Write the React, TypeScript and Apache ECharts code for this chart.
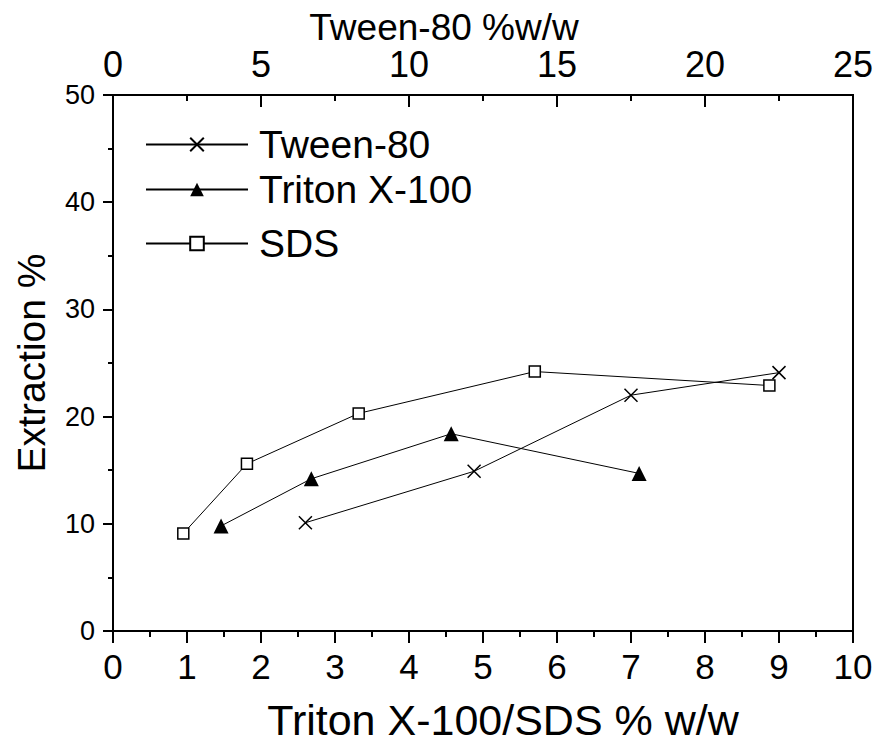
import React, { useEffect, useRef } from "react";
import * as echarts from "echarts";

// Bottom axis (Triton X-100 / SDS % w/w) series
const sdsX = [0.95, 1.81, 3.32, 5.7, 8.87];
const sdsY = [9.1, 15.6, 20.3, 24.2, 22.9];
const tritonX = [1.46, 2.68, 4.57, 7.11];
const tritonY = [9.8, 14.2, 18.4, 14.7];
// Top axis (Tween-80 %w/w) series
const tweenX = [6.5, 12.2, 17.5, 22.5];
const tweenY = [10.1, 14.9, 22.0, 24.1];

const seriesNames = ["Tween-80", "Triton X-100", "SDS"];
const bottomAxisTitle = "Triton X-100/SDS % w/w";
const topAxisTitle = "Tween-80 %w/w";
const leftAxisTitle = "Extraction %";

const FONT = "'Liberation Sans', Arial, Helvetica, sans-serif";
const CROSS = "path://M0,0L10,10M10,0L0,10";

const zip = (xs: number[], ys: number[]) => xs.map((x, i) => [x, ys[i]]);

export default function App() {
  const ref = useRef<HTMLDivElement>(null);
  useEffect(() => {
    if (!ref.current) return;
    const chart = echarts.init(ref.current, undefined, { renderer: "svg" });
    const legendRows = [145, 190, 244];
    chart.setOption({
      animation: false,
      backgroundColor: "#fff",
      grid: {
        left: 113,
        right: 27,
        top: 95,
        bottom: 118,
        show: true,
        borderColor: "#000",
        borderWidth: 2,
        backgroundColor: "transparent",
      },
      legend: seriesNames.map((name, i) => ({
        data: [name],
        left: 140,
        top: legendRows[i] - 25,
        orient: "vertical",
        itemWidth: 102,
        itemHeight: 17,
        selectedMode: false,
        textStyle: {
          fontSize: 39,
          fontFamily: FONT,
          color: "#000",
          padding: [0, 0, 0, 6],
        },
      })),
      xAxis: [
        {
          type: "value",
          position: "bottom",
          min: 0,
          max: 10,
          interval: 1,
          axisLine: { show: true, lineStyle: { color: "#000", width: 2 } },
          axisTick: { show: true, inside: false, length: 12, lineStyle: { color: "#000", width: 2 } },
          minorTick: { show: true, splitNumber: 2, length: 6, lineStyle: { color: "#000", width: 2 } },
          splitLine: { show: false },
          axisLabel: { fontSize: 35, fontFamily: FONT, color: "#000", margin: 18 },
        },
        {
          type: "value",
          position: "top",
          min: 0,
          max: 25,
          interval: 5,
          axisLine: { show: true, lineStyle: { color: "#000", width: 2 } },
          axisTick: { show: true, inside: true, length: 12, lineStyle: { color: "#000", width: 2 } },
          minorTick: { show: true, splitNumber: 2, length: 6, lineStyle: { color: "#000", width: 2 } },
          splitLine: { show: false },
          axisLabel: { fontSize: 36, fontFamily: FONT, color: "#000", margin: 13 },
        },
      ],
      yAxis: {
        type: "value",
        min: 0,
        max: 50,
        interval: 10,
        axisLine: { show: true, lineStyle: { color: "#000", width: 2 } },
        axisTick: { show: true, inside: false, length: 10, lineStyle: { color: "#000", width: 2 } },
        minorTick: { show: true, splitNumber: 2, length: 5, lineStyle: { color: "#000", width: 2 } },
        splitLine: { show: false },
        axisLabel: { fontSize: 27, fontFamily: FONT, color: "#000", margin: 18 },
      },
      graphic: [
        {
          type: "text",
          x: 444,
          y: 27,
          style: { text: topAxisTitle, fontSize: 37, fontFamily: FONT, fill: "#000", align: "center", verticalAlign: "middle" },
        },
        {
          type: "text",
          x: 503,
          y: 720,
          style: { text: bottomAxisTitle, fontSize: 43, fontFamily: FONT, fill: "#000", align: "center", verticalAlign: "middle" },
        },
        {
          type: "text",
          x: 31,
          y: 363,
          rotation: Math.PI / 2,
          style: { text: leftAxisTitle, fontSize: 39, fontFamily: FONT, fill: "#000", align: "center", verticalAlign: "middle" },
        },
      ],
      series: [
        {
          name: seriesNames[0],
          type: "line",
          xAxisIndex: 1,
          data: zip(tweenX, tweenY),
          symbol: CROSS,
          symbolSize: 13,
          lineStyle: { color: "#000", width: 1 },
          itemStyle: { color: "none", borderColor: "#000", borderWidth: 1.5 },
        },
        {
          name: seriesNames[1],
          type: "line",
          xAxisIndex: 0,
          data: zip(tritonX, tritonY),
          symbol: "triangle",
          symbolSize: 15,
          lineStyle: { color: "#000", width: 1 },
          itemStyle: { color: "#000", borderColor: "#000", borderWidth: 0 },
        },
        {
          name: seriesNames[2],
          type: "line",
          xAxisIndex: 0,
          data: zip(sdsX, sdsY),
          symbol: "rect",
          symbolSize: 11,
          lineStyle: { color: "#000", width: 1 },
          itemStyle: { color: "#fff", borderColor: "#000", borderWidth: 1.5 },
        },
      ],
    });
    return () => chart.dispose();
  }, []);
  return (
    <div
      ref={ref}
      style={{ position: "fixed", left: 0, top: 0, width: 880, height: 749, background: "#fff" }}
    />
  );
}
